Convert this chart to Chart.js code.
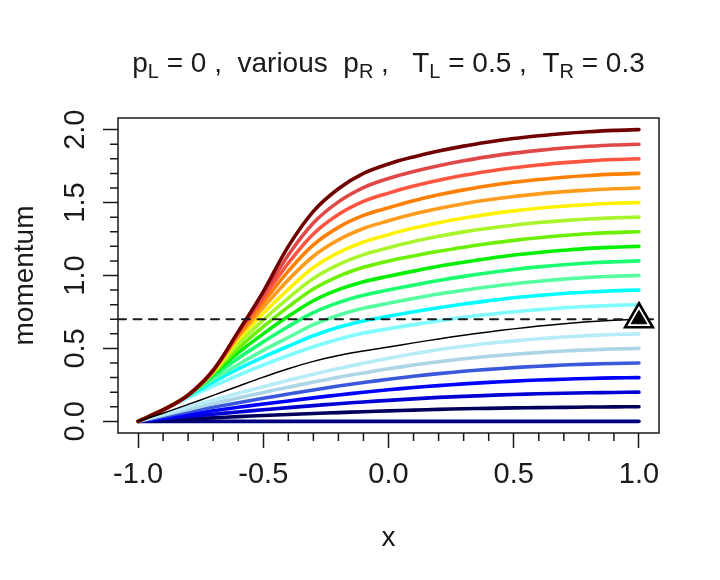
<!DOCTYPE html>
<html>
<head>
<meta charset="utf-8">
<script src="https://cdn.jsdelivr.net/npm/chart.js@4.4.0/dist/chart.umd.min.js"></script>
<style>
  html, body { margin: 0; padding: 0; background: #fff; }
</style>
</head>
<body>
<canvas id="chart" width="720" height="580"></canvas>
<script>
const xGrid = [-1, -0.9, -0.8, -0.7, -0.6, -0.5, -0.4, -0.3, -0.2, -0.1, 0,
               0.1, 0.2, 0.3, 0.4, 0.5, 0.6, 0.7, 0.8, 0.9, 1];

// one momentum profile per right-hand value p_R (0.0 .. 2.0)
const p00 = [0, 0, 0, 0, 0, 0, 0, 0, 0, 0, 0, 0, 0, 0, 0, 0, 0, 0, 0, 0, 0];
const p01 = [0, .008, .016, .024, .032, .040, .047, .054, .060, .066, .072, .077, .082, .086, .089, .092, .094, .096, .098, .099, .1];
const p02 = [0, .017, .033, .049, .064, .079, .094, .108, .121, .133, .144, .154, .164, .171, .178, .184, .189, .193, .196, .198, .2];
const p03 = [0, .025, .049, .073, .096, .119, .140, .161, .181, .199, .216, .232, .245, .257, .267, .276, .283, .289, .294, .298, .3];
const p04 = [0, .033, .066, .097, .128, .158, .187, .215, .242, .266, .288, .309, .327, .343, .356, .368, .378, .386, .392, .397, .4];
const p05 = [0, .042, .082, .122, .160, .198, .234, .269, .302, .332, .360, .386, .409, .429, .446, .460, .472, .482, .490, .496, .5];
const p06 = [0, .050, .098, .146, .192, .237, .281, .323, .362, .398, .432, .463, .491, .514, .535, .552, .566, .578, .588, .595, .6];
const p07 = [0, .056, .116, .178, .241, .303, .361, .411, .451, .482, .510, .538, .565, .590, .613, .634, .653, .669, .683, .693, .7];
const p08 = [0, .078, .161, .241, .316, .386, .451, .511, .563, .605, .635, .663, .689, .713, .733, .751, .766, .779, .788, .795, .8];
const p09 = [0, .078, .172, .269, .359, .441, .515, .587, .645, .688, .720, .751, .779, .805, .827, .847, .863, .877, .887, .895, .9];
const p10 = [0, .078, .178, .288, .390, .487, .575, .663, .728, .775, .810, .842, .873, .899, .923, .944, .961, .975, .987, .995, 1.0];
const p11 = [0, .078, .178, .308, .433, .545, .650, .745, .814, .864, .900, .934, .966, .994, 1.019, 1.041, 1.059, 1.074, 1.086, 1.094, 1.1];
const p12 = [0, .078, .180, .325, .470, .600, .720, .827, .903, .957, .995, 1.030, 1.063, 1.091, 1.117, 1.140, 1.158, 1.173, 1.186, 1.194, 1.2];
const p13 = [0, .078, .180, .330, .500, .650, .785, .907, .994, 1.056, 1.100, 1.134, 1.166, 1.194, 1.219, 1.241, 1.259, 1.274, 1.286, 1.294, 1.3];
const p14 = [0, .078, .180, .335, .530, .695, .845, .980, 1.075, 1.143, 1.190, 1.233, 1.269, 1.299, 1.324, 1.345, 1.363, 1.376, 1.387, 1.395, 1.4];
const p15 = [0, .078, .180, .340, .560, .740, .905, 1.055, 1.157, 1.230, 1.280, 1.325, 1.362, 1.394, 1.421, 1.443, 1.461, 1.475, 1.487, 1.495, 1.5];
const p16 = [0, .078, .180, .345, .580, .780, .970, 1.132, 1.244, 1.322, 1.375, 1.421, 1.459, 1.492, 1.519, 1.542, 1.560, 1.575, 1.586, 1.595, 1.6];
const p17 = [0, .078, .180, .348, .595, .815, 1.030, 1.210, 1.330, 1.412, 1.465, 1.513, 1.553, 1.587, 1.615, 1.639, 1.658, 1.674, 1.686, 1.695, 1.7];
const p18 = [0, .078, .180, .349, .605, .845, 1.085, 1.285, 1.418, 1.508, 1.565, 1.613, 1.653, 1.687, 1.715, 1.739, 1.758, 1.774, 1.786, 1.795, 1.8];
const p19 = [0, .078, .180, .350, .610, .865, 1.140, 1.360, 1.505, 1.603, 1.665, 1.713, 1.753, 1.787, 1.815, 1.839, 1.858, 1.874, 1.886, 1.895, 1.9];
const p20 = [0, .078, .180, .350, .615, .890, 1.200, 1.440, 1.595, 1.700, 1.765, 1.813, 1.853, 1.887, 1.915, 1.939, 1.958, 1.974, 1.986, 1.995, 2.0];
const curves = [p00, p01, p02, p03, p04, p05, p06, p07, p08, p09, p10,
                p11, p12, p13, p14, p15, p16, p17, p18, p19, p20];

// target momentum and its marker at the right boundary
const targetMomentum = 0.7;
const markerX = [1.0];
const markerY = [0.7];

const xTicks = [-1, -0.5, 0, 0.5, 1];
const xTickLabels = ['-1.0', '-0.5', '0.0', '0.5', '1.0'];
const yTicks = [0, 0.5, 1, 1.5, 2];
const yTickLabels = ['0.0', '0.5', '1.0', '1.5', '2.0'];
const xMinorTicks = [-0.9, -0.8, -0.7, -0.6, -0.4, -0.3, -0.2, -0.1, 0.1, 0.2, 0.3, 0.4, 0.6, 0.7, 0.8, 0.9];
const yMinorTicks = [0.1, 0.2, 0.3, 0.4, 0.6, 0.7, 0.8, 0.9, 1.1, 1.2, 1.3, 1.4, 1.6, 1.7, 1.8, 1.9];

const curveColors = [
  '#000080', '#00005c', '#0000d4', '#0000ff', '#3a58dc', '#acd6e6', '#b6ebf8', '#000000',
  '#80fbff', '#00ffff', '#55ffa0', '#1aff70', '#00f000', '#6cf000', '#a8f52c', '#fff200',
  '#ff9c1e', '#ff8000', '#ff5540', '#e04848', '#700000'
];

const FONT = '"Liberation Sans", Arial, Helvetica, sans-serif';
const INK = '#1a1a1a';

const toPoints = ys => xGrid.map((x, j) => ({ x: x, y: ys[j] }));

const datasets = curves.map((ys, i) => ({
  data: toPoints(ys),
  borderColor: curveColors[i],
  borderWidth: i === 7 ? 1.5 : 3.6,
  borderCapStyle: 'round',
  borderJoinStyle: 'round',
  tension: 0.35,
  pointRadius: 0,
  order: i === 7 ? 10 : 100 - i
}));

// dashed reference line across the whole x range
datasets.push({
  data: [{ x: -1.08, y: targetMomentum }, { x: 1.08, y: targetMomentum }],
  borderColor: INK,
  borderWidth: 2,
  borderDash: [8, 7.5],
  borderCapStyle: 'round',
  pointRadius: 0,
  order: 5
});

// triangle marker: open white triangle with a black one inside
datasets.push({
  data: markerX.map((x, j) => ({ x: x, y: markerY[j] })),
  showLine: false,
  pointStyle: 'triangle',
  pointRadius: 16,
  pointBorderWidth: 2.6,
  pointBorderColor: '#000',
  pointBackgroundColor: '#fff',
  clip: false,
  order: 2
});
datasets.push({
  data: markerX.map((x, j) => ({ x: x, y: markerY[j] })),
  showLine: false,
  pointStyle: 'triangle',
  pointRadius: 9,
  pointBorderWidth: 1,
  pointBorderColor: '#000',
  pointBackgroundColor: '#000',
  clip: false,
  order: 1
});

const titleParts = [
  ['p', false], ['L', true], [' = 0 ,  various  p', false], ['R', true],
  [' ,   T', false], ['L', true], [' = 0.5 ,  T', false], ['R', true], [' = 0.3', false]
];

const rFrame = {
  id: 'rFrame',
  beforeDraw(chart) {
    const ctx = chart.ctx;
    ctx.save();
    ctx.fillStyle = '#fff';
    ctx.fillRect(0, 0, chart.width, chart.height);
    ctx.restore();
  },
  afterDraw(chart) {
    const { ctx, chartArea: a, scales: { x, y } } = chart;
    ctx.save();

    // box round the plot region
    ctx.strokeStyle = INK;
    ctx.lineWidth = 1.5;
    ctx.strokeRect(a.left, a.top, a.right - a.left, a.bottom - a.top);

    // minor ticks
    ctx.beginPath();
    xMinorTicks.forEach(v => {
      const px = x.getPixelForValue(v);
      ctx.moveTo(px, a.bottom);
      ctx.lineTo(px, a.bottom + 8);
    });
    yMinorTicks.forEach(v => {
      const py = y.getPixelForValue(v);
      ctx.moveTo(a.left - 8, py);
      ctx.lineTo(a.left, py);
    });
    ctx.stroke();

    ctx.fillStyle = INK;

    // x tick labels
    ctx.font = '29px ' + FONT;
    ctx.textAlign = 'center';
    ctx.textBaseline = 'alphabetic';
    xTicks.forEach((v, i) => ctx.fillText(xTickLabels[i], x.getPixelForValue(v), 483));

    // y tick labels, rotated like R does
    yTicks.forEach((v, i) => {
      ctx.save();
      ctx.translate(84, y.getPixelForValue(v));
      ctx.rotate(-Math.PI / 2);
      ctx.fillText(yTickLabels[i], 0, 0);
      ctx.restore();
    });

    // axis titles
    const midX = (a.left + a.right) / 2;
    const midY = (a.top + a.bottom) / 2;
    ctx.font = '28px ' + FONT;
    ctx.fillText('x', midX, 546);
    ctx.save();
    ctx.translate(33, midY);
    ctx.rotate(-Math.PI / 2);
    ctx.fillText('momentum', 0, 0);
    ctx.restore();

    // main title with subscripts
    const big = '28px ' + FONT;
    const small = '20px ' + FONT;
    let total = 0;
    titleParts.forEach(([t, sub]) => {
      ctx.font = sub ? small : big;
      total += ctx.measureText(t).width;
    });
    let cx = midX - total / 2;
    ctx.textAlign = 'left';
    titleParts.forEach(([t, sub]) => {
      ctx.font = sub ? small : big;
      ctx.fillText(t, cx, sub ? 78 : 72);
      cx += ctx.measureText(t).width;
    });

    ctx.restore();
  }
};

new Chart(document.getElementById('chart'), {
  type: 'line',
  data: { datasets: datasets },
  plugins: [rFrame],
  options: {
    responsive: false,
    animation: false,
    devicePixelRatio: 1,
    layout: { padding: { top: 118, right: 61, left: 0, bottom: 0 } },
    plugins: { legend: { display: false }, tooltip: { enabled: false }, title: { display: false } },
    scales: {
      x: {
        type: 'linear',
        min: -1.08,
        max: 1.08,
        afterBuildTicks: s => { s.ticks = xTicks.map(v => ({ value: v })); },
        afterFit: s => { s.height = 147; },
        ticks: { display: false },
        border: { display: false },
        grid: { drawOnChartArea: false, drawTicks: true, tickLength: 15, tickWidth: 1.5, tickColor: INK }
      },
      y: {
        type: 'linear',
        min: -0.08,
        max: 2.08,
        afterBuildTicks: s => { s.ticks = yTicks.map(v => ({ value: v })); },
        afterFit: s => { s.width = 118; },
        ticks: { display: false },
        border: { display: false },
        grid: { drawOnChartArea: false, drawTicks: true, tickLength: 15, tickWidth: 1.5, tickColor: INK }
      }
    }
  }
});
</script>
</body>
</html>
